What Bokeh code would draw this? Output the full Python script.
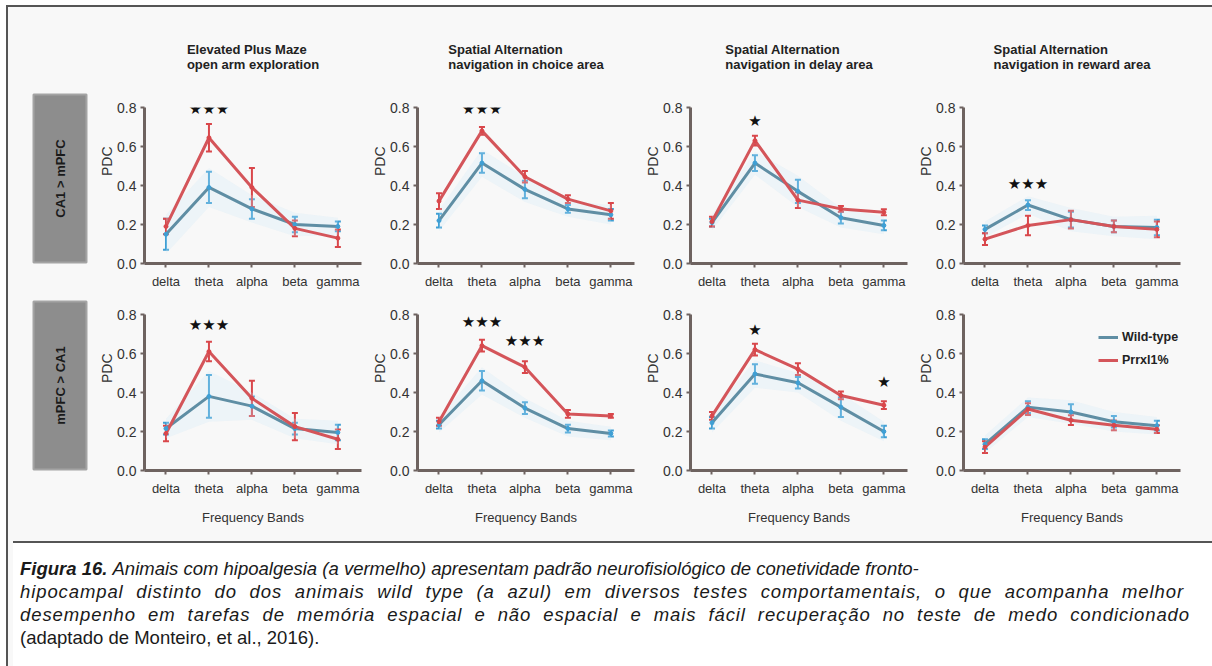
from math import pi
from bokeh.plotting import figure
from bokeh.layouts import row, column
from bokeh.models import (Range1d, ColumnDataSource, Whisker, TeeHead, Legend,
                          LegendItem, FixedTicker, PrintfTickFormatter, Div, Title)
from bokeh.core.properties import value
from bokeh.embed import file_html
from bokeh.resources import INLINE

# ---------------- data ----------------
bands = ["delta", "theta", "alpha", "beta", "gamma"]
panel_titles = ["Elevated Plus Maze\nopen arm exploration",
                "Spatial Alternation\nnavigation in choice area",
                "Spatial Alternation\nnavigation in delay area",
                "Spatial Alternation\nnavigation in reward area"]
row_labels = ["CA1 > mPFC", "mPFC > CA1"]
series_names = ["Wild-type", "Prrxl1%"]

# row 1: CA1 > mPFC
wt_r1c1 = [0.15, 0.39, 0.28, 0.20, 0.19]
wt_e_r1c1 = [0.08, 0.08, 0.05, 0.04, 0.025]
kd_r1c1 = [0.19, 0.645, 0.39, 0.18, 0.13]
kd_e_r1c1 = [0.04, 0.07, 0.10, 0.04, 0.045]
st_r1c1 = [("theta", 0.79, 3)]

wt_r1c2 = [0.22, 0.515, 0.38, 0.28, 0.25]
wt_e_r1c2 = [0.035, 0.05, 0.045, 0.02, 0.03]
kd_r1c2 = [0.32, 0.68, 0.445, 0.33, 0.27]
kd_e_r1c2 = [0.04, 0.02, 0.03, 0.02, 0.04]
st_r1c2 = [("theta", 0.79, 3)]

wt_r1c3 = [0.21, 0.515, 0.37, 0.235, 0.195]
wt_e_r1c3 = [0.02, 0.04, 0.06, 0.03, 0.025]
kd_r1c3 = [0.215, 0.63, 0.325, 0.28, 0.263]
kd_e_r1c3 = [0.025, 0.025, 0.04, 0.015, 0.015]
st_r1c3 = [("theta", 0.73, 1)]

wt_r1c4 = [0.175, 0.30, 0.225, 0.19, 0.185]
wt_e_r1c4 = [0.02, 0.025, 0.04, 0.03, 0.04]
kd_r1c4 = [0.125, 0.195, 0.225, 0.19, 0.175]
kd_e_r1c4 = [0.03, 0.05, 0.045, 0.03, 0.04]
st_r1c4 = [("theta", 0.41, 3)]

# row 2: mPFC > CA1
wt_r2c1 = [0.215, 0.38, 0.33, 0.215, 0.195]
wt_e_r2c1 = [0.03, 0.11, 0.05, 0.03, 0.04]
kd_r2c1 = [0.19, 0.61, 0.37, 0.225, 0.16]
kd_e_r2c1 = [0.04, 0.05, 0.09, 0.07, 0.05]
st_r2c1 = [("theta", 0.745, 3)]

wt_r2c2 = [0.235, 0.46, 0.32, 0.215, 0.19]
wt_e_r2c2 = [0.02, 0.05, 0.03, 0.02, 0.015]
kd_r2c2 = [0.25, 0.64, 0.53, 0.29, 0.28]
kd_e_r2c2 = [0.02, 0.03, 0.03, 0.02, 0.01]
st_r2c2 = [("theta", 0.76, 3), ("alpha", 0.665, 3)]

wt_r2c3 = [0.245, 0.495, 0.45, 0.325, 0.20]
wt_e_r2c3 = [0.03, 0.05, 0.03, 0.05, 0.03]
kd_r2c3 = [0.28, 0.62, 0.52, 0.385, 0.335]
kd_e_r2c3 = [0.02, 0.03, 0.03, 0.02, 0.02]
st_r2c3 = [("theta", 0.72, 1), ("gamma", 0.455, 1)]

wt_r2c4 = [0.135, 0.325, 0.30, 0.25, 0.23]
wt_e_r2c4 = [0.025, 0.03, 0.04, 0.03, 0.025]
kd_r2c4 = [0.12, 0.315, 0.258, 0.232, 0.212]
kd_e_r2c4 = [0.03, 0.03, 0.025, 0.025, 0.02]
st_r2c4 = []

caption_bold = "Figura 16."
caption_line1 = "Animais com hipoalgesia (a vermelho) apresentam padrão neurofisiológico de conetividade fronto-"
caption_line2 = "hipocampal distinto do dos animais wild type (a azul) em diversos testes comportamentais, o que acompanha melhor"
caption_line3 = "desempenho em tarefas de memória espacial e não espacial e mais fácil recuperação no teste de medo condicionado"
caption_last = "(adaptado de Monteiro, et al., 2016)."

# ---------------- style ----------------
BG = "#f8f8f8"
AX = "#6e6360"
WT_LINE = "#5f8ea4"
WT_ERR = "#3f9fd4"
WT_GLOW = "#cbe8f7"
KD_LINE = "#d4555a"
KD_ERR = "#d9474b"
FONT = "Liberation Sans"


def make_panel(r, c, wt, wt_e, kd, kd_e, stars):
    top = 100 if r == 0 else 20
    bottom = 31 if r == 0 else 66
    right = 32 if c == 3 else 7
    left = 49
    p = figure(width=left + 217 + right, height=top + 156 + bottom,
               x_range=Range1d(-0.5, 4.55), y_range=Range1d(0, 0.8),
               min_border_left=left, min_border_right=right,
               min_border_top=top, min_border_bottom=bottom,
               output_backend="svg", toolbar_location=None,
               background_fill_color=BG, border_fill_color=BG,
               outline_line_color=None)
    p.xgrid.visible = False
    p.ygrid.visible = False
    xs = list(range(len(bands)))
    src = ColumnDataSource(dict(
        x=xs, wt=wt, kd=kd,
        wt_up=[m + e for m, e in zip(wt, wt_e)], wt_lo=[m - e for m, e in zip(wt, wt_e)],
        kd_up=[m + e for m, e in zip(kd, kd_e)], kd_lo=[m - e for m, e in zip(kd, kd_e)],
        glow_up=[m + e + 0.02 for m, e in zip(wt, wt_e)], glow_lo=[m - e - 0.02 for m, e in zip(wt, wt_e)],
    ))
    p.varea(x="x", y1="glow_lo", y2="glow_up", source=src, fill_color=WT_GLOW, fill_alpha=0.25)
    wl = p.line("x", "wt", source=src, line_color=WT_LINE, line_width=3)
    for col, up, lo in [(WT_ERR, "wt_up", "wt_lo"), (KD_ERR, "kd_up", "kd_lo")]:
        w = Whisker(source=src, base="x", upper=up, lower=lo, line_color=col, line_width=2,
                    upper_head=TeeHead(size=6, line_color=col, line_width=2),
                    lower_head=TeeHead(size=6, line_color=col, line_width=2))
        p.add_layout(w)
    kl = p.line("x", "kd", source=src, line_color=KD_LINE, line_width=3)
    p.scatter("x", "wt", source=src, size=4, color=WT_ERR)
    p.scatter("x", "kd", source=src, size=4, color=KD_ERR)

    for b, yv, n in stars:
        p.text(x=[bands.index(b)], y=[yv], text=["★" * n], text_align="center",
               text_baseline="middle", text_font=value("DejaVu Sans"),
               text_font_size="15px", text_color="#111111")

    # axes
    p.xaxis.ticker = FixedTicker(ticks=xs)
    p.xaxis.major_label_overrides = {i: b for i, b in enumerate(bands)}
    p.yaxis.ticker = FixedTicker(ticks=[0.0, 0.2, 0.4, 0.6, 0.8])
    p.yaxis.formatter = PrintfTickFormatter(format="%.1f")
    for ax in (p.xaxis, p.yaxis):
        ax.axis_line_color = AX
        ax.axis_line_width = 3
        ax.major_tick_line_color = AX
        ax.major_tick_line_width = 2
        ax.major_tick_out = 4
        ax.major_tick_in = 0
        ax.minor_tick_line_color = None
        ax.major_label_text_font = FONT
        ax.major_label_text_color = "#333333"
    p.xaxis.major_label_text_font_size = "13px"
    p.yaxis.major_label_text_font_size = "14px"
    p.xaxis.major_label_standoff = 6
    p.yaxis.major_label_standoff = 4

    p.add_layout(Title(text="PDC", align="right", offset=39, standoff=0,
                       text_font=FONT, text_font_size="14px", text_font_style="normal",
                       text_color="#333333"), "left")

    if r == 0:
        p.title.text = panel_titles[c]
        p.title.align = "center"
        p.title.vertical_align = "top"
        p.title.text_font = FONT
        p.title.text_font_size = "13px"
        p.title.text_font_style = "bold"
        p.title.text_color = "#222222"
        p.title.standoff = 68
    else:
        p.xaxis.axis_label = "Frequency Bands"
        p.xaxis.axis_label_text_font = FONT
        p.xaxis.axis_label_text_font_style = "normal"
        p.xaxis.axis_label_text_font_size = "13px"
        p.xaxis.axis_label_text_color = "#333333"
        p.xaxis.axis_label_standoff = 11

    if r == 1 and c == 3:
        leg = Legend(items=[LegendItem(label=series_names[0], renderers=[wl]),
                            LegendItem(label=series_names[1], renderers=[kl])],
                     location=(135, 100), padding=0, margin=0, spacing=3,
                     label_height=20, glyph_height=20, glyph_width=20, label_standoff=4,
                     background_fill_alpha=0, border_line_color=None,
                     label_text_font=FONT, label_text_font_style="bold",
                     label_text_font_size="12.5px", label_text_color="#222222")
        p.add_layout(leg)
    return p


def make_label(text, h, box_top, box_bottom):
    p = figure(width=87, height=h, x_range=Range1d(0, 87), y_range=Range1d(0, h),
               min_border=0, x_axis_location=None, y_axis_location=None,
               output_backend="svg", toolbar_location=None,
               background_fill_color=BG, border_fill_color=BG, outline_line_color=None)
    p.xgrid.visible = False
    p.ygrid.visible = False
    p.quad(left=[25], right=[78], top=[box_top], bottom=[box_bottom],
           fill_color="#8d8d8d", line_color="#a4a4a4", line_width=2)
    p.text(x=[51.5], y=[(box_top + box_bottom) / 2], text=[text], angle=pi / 2,
           text_align="center", text_baseline="middle", text_font=value(FONT),
           text_font_style="bold", text_font_size="13px", text_color="#1a1a1a")
    return p


data = [
    [(wt_r1c1, wt_e_r1c1, kd_r1c1, kd_e_r1c1, st_r1c1),
     (wt_r1c2, wt_e_r1c2, kd_r1c2, kd_e_r1c2, st_r1c2),
     (wt_r1c3, wt_e_r1c3, kd_r1c3, kd_e_r1c3, st_r1c3),
     (wt_r1c4, wt_e_r1c4, kd_r1c4, kd_e_r1c4, st_r1c4)],
    [(wt_r2c1, wt_e_r2c1, kd_r2c1, kd_e_r2c1, st_r2c1),
     (wt_r2c2, wt_e_r2c2, kd_r2c2, kd_e_r2c2, st_r2c2),
     (wt_r2c3, wt_e_r2c3, kd_r2c3, kd_e_r2c3, st_r2c3),
     (wt_r2c4, wt_e_r2c4, kd_r2c4, kd_e_r2c4, st_r2c4)],
]

rows = []
for r in range(2):
    rows.append(row(*[make_panel(r, c, *data[r][c]) for c in range(4)], spacing=0))

lab1 = make_label(row_labels[0], 287, 200, 32)
lab2 = make_label(row_labels[1], 242, 235, 67)

top_block = row(column(lab1, lab2, spacing=0), column(*rows, spacing=0), spacing=0,
                styles={"background-color": BG})

just = "text-align:justify;text-align-last:justify;white-space:nowrap;letter-spacing:0.9px;"
cap_html = (
    '<div style="white-space:nowrap"><b><i>%s</i></b> <i>%s</i></div>' % (caption_bold, caption_line1)
    + '<div style="width:1164px;%s"><i>%s</i></div>' % (just, caption_line2)
    + '<div style="width:1170px;%s"><i>%s</i></div>' % (just, caption_line3)
    + '<div style="white-space:nowrap">%s</div>' % caption_last
)

caption = Div(text=cap_html, width=1204, height=125,
              styles={"font-family": FONT, "font-size": "18.5px", "line-height": "23px",
                      "color": "#1a1a1a",
                      "padding-top": "14px", "padding-left": "7px",
                      "border-top": "2px solid #555555", "background-color": "white",
                      "box-sizing": "border-box"})

root = column(top_block, caption, spacing=0,
              styles={"border-left": "2px solid #555555", "border-top": "2px solid #555555",
                      "margin-left": "6px", "margin-top": "5px",
                      "background-color": BG})

open("out.html", "w").write(file_html(root, INLINE))
